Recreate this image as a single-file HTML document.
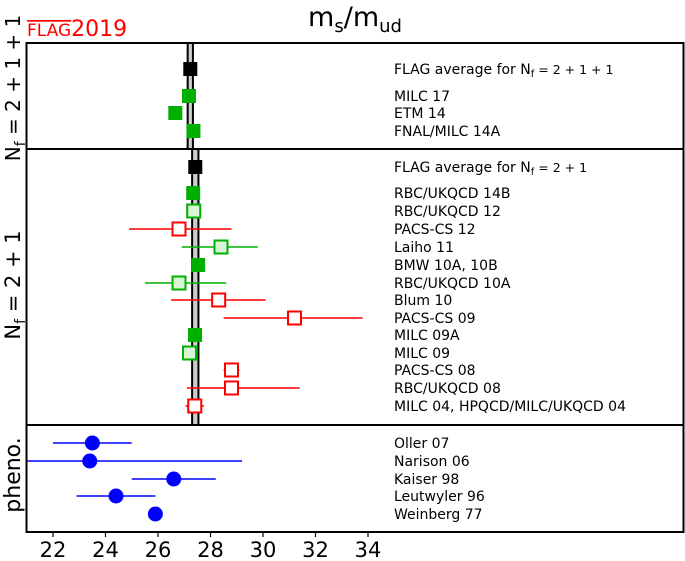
<!DOCTYPE html>
<html><head><meta charset="utf-8"><style>
html,body{margin:0;padding:0;background:#fff;}
svg{display:block;font-family:"DejaVu Sans","Liberation Sans",sans-serif;}
</style></head><body>
<svg id="chart" width="685" height="561" viewBox="0 0 685 561" xmlns="http://www.w3.org/2000/svg">
<text x="27" y="36" fill="#f00" font-size="22"><tspan font-size="17" text-decoration="overline">FLAG</tspan>2019</text>
<text x="355" y="26" text-anchor="middle" font-size="27">m<tspan font-size="18" dy="6">s</tspan><tspan dy="-6">/m</tspan><tspan font-size="18" dy="6">ud</tspan></text>
<g id="plot"></g>
</svg>
<script>
const labels = ["FLAG average for N_f=2+1+1","MILC 17","ETM 14","FNAL/MILC 14A",
"FLAG average for N_f=2+1","RBC/UKQCD 14B","RBC/UKQCD 12","PACS-CS 12","Laiho 11","BMW 10A, 10B","RBC/UKQCD 10A","Blum 10","PACS-CS 09","MILC 09A","MILC 09","PACS-CS 08","RBC/UKQCD 08","MILC 04, HPQCD/MILC/UKQCD 04",
"Oller 07","Narison 06","Kaiser 98","Leutwyler 96","Weinberg 77"];
const values = [27.23,27.18,26.66,27.35, 27.42,27.34,27.36,26.8,28.4,27.53,26.8,28.31,31.2,27.41,27.2,28.8,28.8,27.4, 23.5,23.4,26.6,24.4,25.9];
const errLo = [27.23,27.18,26.5,27.35, 27.42,27.34,27.1,24.9,26.9,27.53,25.5,26.5,28.5,27.41,27.0,28.5,27.1,27.05, 22.0,21.0,25.0,22.9,25.9];
const errHi = [27.23,27.18,26.85,27.35, 27.42,27.34,27.6,28.8,29.8,27.53,28.6,30.1,33.8,27.41,27.4,29.1,31.4,27.75, 25.0,29.2,28.2,25.9,25.9];
const styles = ["avg","fg","fg","fg","avg","fg","og","or","og","fg","og","or","or","fg","og","or","or","or","b","b","b","b","b"];
const rowY = [69,96,113,131, 167,193,211,229,247,265,283,300,318,335,353,370,388,406, 443,461,479,496,514];
const bands = [{lo:27.13,hi:27.33,y0:43,y1:149},{lo:27.30,hi:27.54,y0:149,y1:425}];
const ticks = [22,24,26,28,30,32,34];
const X = v => 53 + (v-22)*26.25;
const NS="http://www.w3.org/2000/svg";
const g=document.getElementById('plot');
function mk(t,a,p){const e=document.createElementNS(NS,t);for(const k in a)e.setAttribute(k,a[k]);(p||g).appendChild(e);return e;}
bands.forEach((b,i)=>{
 const r=mk('rect',{x:X(b.lo),y:b.y0,width:X(b.hi)-X(b.lo),height:b.y1-b.y0,fill:'#ccc',stroke:'#000','stroke-width':2});
 
 
});
const col={fg:'#00b000',og:'#00b000',or:'#f00',b:'#00f',avg:'#000'};
values.forEach((v,i)=>{
 const s=styles[i],y=rowY[i],c=col[s];
 if(errHi[i]>errLo[i]){const l=mk('line',{x1:X(errLo[i]),x2:X(errHi[i]),y1:y,y2:y,stroke:c,'stroke-width':1.5});
  
  }
 let m;
 if(s==='b') m=mk('circle',{cx:X(v),cy:y,r:7.5,fill:c});
 else if(s==='og') m=mk('rect',{x:X(v)-6.5,y:y-6.5,width:13,height:13,fill:'#d8f5d8',stroke:c,'stroke-width':2});
 else if(s==='or') m=mk('rect',{x:X(v)-6.5,y:y-6.5,width:13,height:13,fill:'#fff',stroke:c,'stroke-width':2});
 else m=mk('rect',{x:X(v)-7,y:y-7,width:14,height:14,fill:c});
 
 
 const t=mk('text',{x:394,y:y+5,'font-size':14,fill:'#000'});
 
 
 const lab=labels[i];
 if(lab.includes('N_f')){const parts=lab.split('N_f');t.textContent=parts[0]+'N';const sp=mk('tspan',{'font-size':10,dy:3},t);sp.textContent='f';const sp2=mk('tspan',{dy:-3,'font-size':12.5},t);sp2.textContent=parts[1].replace(/([=+])/g,' $1 ');}
 else t.textContent=lab;
});
const fr=mk('rect',{x:26.5,y:43,width:657,height:489,fill:'none',stroke:'#000','stroke-width':2});


[149,425].forEach(y=>{const l=mk('line',{x1:26.5,x2:683.5,y1:y,y2:y,stroke:'#000','stroke-width':2});
 
 });
ticks.forEach(t=>{
 const l=mk('line',{x1:X(t),x2:X(t),y1:532,y2:537,stroke:'#000','stroke-width':1.2});
 
 
 const tx=mk('text',{x:X(t),y:557,'text-anchor':'middle','font-size':21});
 
 
 tx.textContent=t;
});
const groups=[{y:88,txt:' = 2 + 1 + 1',fs:20},{y:285,txt:' = 2 + 1',fs:21},{y:475,txt:null,fs:22}];
groups.forEach(gp=>{
 const t=mk('text',{x:0,y:0,'text-anchor':'middle','font-size':gp.fs,transform:`translate(20,${gp.y}) rotate(-90)`});
 
 
 if(gp.txt){t.textContent='N';const s=mk('tspan',{'font-size':14,dy:5},t);s.textContent='f';const s2=mk('tspan',{dy:-5},t);s2.textContent=gp.txt;}
 else t.textContent='pheno.';
});
</script>
</body></html>
